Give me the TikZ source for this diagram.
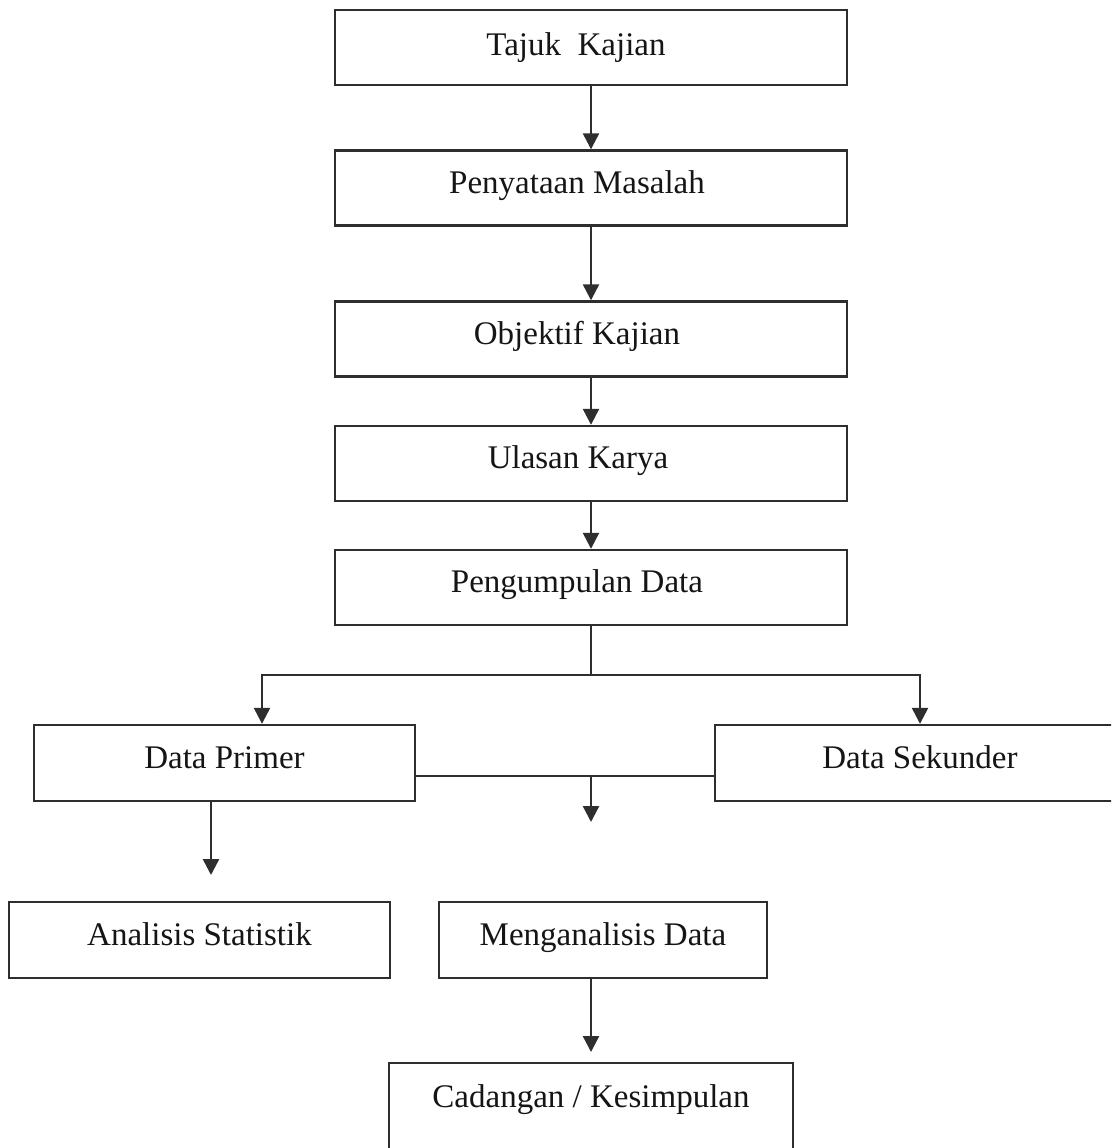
\documentclass[tikz,border=0pt]{standalone}
\usepackage{fontspec}
\setmainfont{Liberation Serif}
\usetikzlibrary{arrows.meta}
\definecolor{linec}{HTML}{2E2E2E}
\definecolor{textc}{HTML}{151515}
\begin{document}
\begin{tikzpicture}[x=1pt,y=-1pt,
  box/.style={draw=linec, line width=2.4pt, inner xsep=0pt, inner ysep=0pt,
    text=textc, font=\fontsize{33pt}{40pt}\selectfont,
    text height=42.5pt, text depth=32.5pt},
  topbox/.style={box, minimum width=512pt},
  lowbox/.style={box, text height=43pt, text depth=33pt},
  conn/.style={draw=linec, line width=2.4pt},
  arr/.style={conn, -{Triangle[length=16pt,width=16pt]}}]
\fill[white] (0,0) rectangle (1111,1148);
\path[use as bounding box] (0,0) rectangle (1111,1148);
\clip (0,0) rectangle (1111,1148);

\node[topbox, text height=46pt, text depth=29pt] (t1) at (591,47.5) {Tajuk\ \ Kajian\hspace*{30pt}};
\node[topbox] (t2) at (591,188) {Penyataan Masalah\hspace*{28pt}};
\node[topbox] (t3) at (591,339) {Objektif Kajian\hspace*{28pt}};
\node[topbox] (t4) at (591,463.5) {Ulasan Karya\hspace*{26pt}};
\node[topbox] (t5) at (591,587.5) {Pengumpulan Data\hspace*{28pt}};

\node[lowbox, minimum width=381pt] (pri) at (224.5,763) {Data Primer};
\node[lowbox, minimum width=410pt] (sek) at (920,763) {Data Sekunder};
\node[lowbox, minimum width=381pt] (ana) at (199.5,940) {Analisis Statistik};
\node[lowbox, minimum width=328pt] (men) at (603,940) {Menganalisis Data};
\node[box, anchor=north, minimum width=404pt, text height=44pt, text depth=62pt] (cad) at (591,1062) {Cadangan / Kesimpulan};

\coordinate (aL) at (262,675);
\coordinate (aR) at (920,675);
\coordinate (mid) at (591,776);
\coordinate (midEnd) at (591,822);
\coordinate (pEnd) at (211,875);

\draw[arr] (t1) -- (t2);
\draw[arr] (t2) -- (t3);
\draw[arr] (t3) -- (t4);
\draw[arr] (t4) -- (t5);
\draw[arr] (t5.south) |- (aL) -- (aL |- pri.north);
\draw[arr] (t5.south) |- (aR) -- (aR |- sek.north);
\draw[conn] (pri.east |- mid) -- (sek.west |- mid);
\draw[arr] (mid) -- (midEnd);
\draw[arr] (pri.south -| pEnd) -- (pEnd);
\draw[arr] (men.south -| cad.north) -- ([yshift=10pt]cad.north);
\end{tikzpicture}
\end{document}
